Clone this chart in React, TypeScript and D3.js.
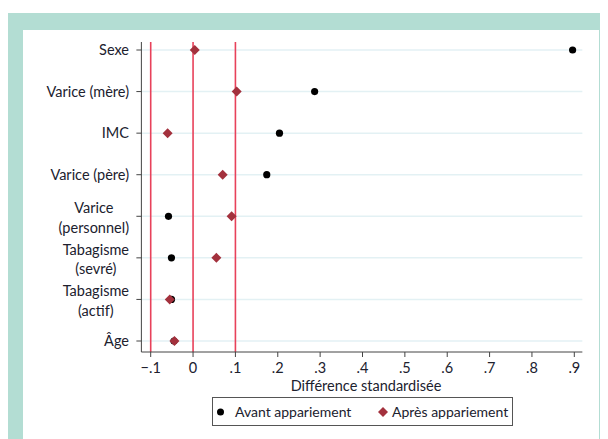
import React, { useEffect, useRef } from "react";
import * as d3 from "d3";

const categories = [
  ["Sexe"],
  ["Varice (mère)"],
  ["IMC"],
  ["Varice (père)"],
  ["Varice", "(personnel)"],
  ["Tabagisme", "(sevré)"],
  ["Tabagisme", "(actif)"],
  ["Âge"],
];
const avant = [0.896, 0.287, 0.204, 0.174, -0.058, -0.051, -0.051, -0.045];
const apres = [0.004, 0.103, -0.06, 0.07, 0.091, 0.055, -0.055, -0.044];
const refLines = [-0.1, 0, 0.1];
const xTicks = [-0.1, 0, 0.1, 0.2, 0.3, 0.4, 0.5, 0.6, 0.7, 0.8, 0.9];

const FONT = "Lato, sans-serif";
const FS = "14.5px";
const INK = "#20212e";

const App: React.FC = () => {
  const svgRef = useRef<SVGSVGElement>(null);

  useEffect(() => {
    if (!svgRef.current) return;
    const svg = d3.select(svgRef.current);
    svg.selectAll("*").remove();

    // frame
    svg.append("rect").attr("x", 0).attr("y", 5).attr("width", 600).attr("height", 434).attr("fill", "#b3ddd3");
    svg.append("rect").attr("x", 15).attr("y", 22).attr("width", 576).attr("height", 417).attr("fill", "#ffffff");

    const x = d3.scaleLinear().domain([-0.1, 0.9]).range([142.7, 566.3]);
    const y = d3
      .scalePoint<number>()
      .domain(d3.range(categories.length))
      .range([42, 333]);

    const plotTop = 34;
    const axisY = 344;
    const axisLeft = x(-0.122);
    const axisRight = x(0.919);

    // gridlines
    svg
      .append("g")
      .selectAll("line")
      .data(categories)
      .join("line")
      .attr("x1", axisLeft)
      .attr("x2", axisRight)
      .attr("y1", (_, i) => y(i)!)
      .attr("y2", (_, i) => y(i)!)
      .attr("stroke", "#e3f1f4")
      .attr("stroke-width", 1.5);

    // reference lines
    svg
      .append("g")
      .selectAll("line")
      .data(refLines)
      .join("line")
      .attr("x1", (d) => x(d))
      .attr("x2", (d) => x(d))
      .attr("y1", plotTop)
      .attr("y2", axisY)
      .attr("stroke", "#e8415a")
      .attr("stroke-width", 1.6);

    // axes
    svg.append("line").attr("x1", axisLeft).attr("x2", axisLeft).attr("y1", plotTop).attr("y2", axisY).attr("stroke", "#444");
    svg.append("line").attr("x1", axisLeft).attr("x2", axisRight).attr("y1", axisY).attr("y2", axisY).attr("stroke", "#444");

    const xt = svg.append("g");
    xTicks.forEach((t) => {
      xt.append("line").attr("x1", x(t)).attr("x2", x(t)).attr("y1", axisY).attr("y2", axisY + 5).attr("stroke", "#444");
      const lbl = t === 0 ? "0" : d3.format(".1f")(t).replace("0.", ".");
      xt.append("text")
        .attr("x", x(t))
        .attr("y", axisY + 21)
        .attr("text-anchor", "middle")
        .style("font-family", FONT)
        .style("font-size", FS)
        .attr("fill", INK)
        .text(lbl);
    });

    svg
      .append("text")
      .attr("x", 358)
      .attr("y", axisY + 39)
      .attr("text-anchor", "middle")
      .style("font-family", FONT)
      .style("font-size", FS)
      .attr("fill", INK)
      .text("Différence standardisée");

    // y labels
    const yl = svg.append("g");
    categories.forEach((lines, i) => {
      const cy = y(i)!;
      yl.append("line").attr("x1", axisLeft - 5).attr("x2", axisLeft).attr("y1", cy).attr("y2", cy).attr("stroke", "#444");
      if (lines.length === 1) {
        yl.append("text")
          .attr("x", 121)
          .attr("y", cy + 5)
          .attr("text-anchor", "end")
          .style("font-family", FONT)
          .style("font-size", FS)
          .attr("fill", INK)
          .text(lines[0]);
      } else {
        const g = yl.append("g");
        const texts = lines.map((s, j) =>
          g
            .append("text")
            .attr("y", cy + (j === 0 ? -3 : 16.5))
            .attr("text-anchor", "middle")
            .style("font-family", FONT)
            .style("font-size", FS)
            .attr("fill", INK)
            .text(s)
        );
        const w = d3.max(texts, (t) => (t.node() as SVGTextElement).getComputedTextLength()) || 0;
        texts.forEach((t) => t.attr("x", 121 - w / 2));
      }
    });

    // markers
    const diamond = d3.symbol().type(d3.symbolDiamond2).size(64);
    svg
      .append("g")
      .selectAll("circle")
      .data(avant)
      .join("circle")
      .attr("cx", (d) => x(d))
      .attr("cy", (_, i) => y(i)!)
      .attr("r", 3.6)
      .attr("fill", "#000");
    svg
      .append("g")
      .selectAll("path")
      .data(apres)
      .join("path")
      .attr("d", diamond)
      .attr("transform", (d, i) => `translate(${x(d)},${y(i)})`)
      .attr("fill", "#a3313d");

    // legend
    const lg = svg.append("g");
    lg.append("rect").attr("x", 204.5).attr("y", 389.5).attr("width", 300).attr("height", 28).attr("fill", "#fff").attr("stroke", "#555");
    lg.append("circle").attr("cx", 212.5).attr("cy", 404).attr("r", 3.5).attr("fill", "#000");
    lg.append("text").attr("x", 227).attr("y", 409).style("font-family", FONT).style("font-size", "14px").attr("fill", INK).text("Avant appariement");
    lg.append("path").attr("d", diamond).attr("transform", "translate(375,404)").attr("fill", "#a3313d");
    lg.append("text").attr("x", 384).attr("y", 409).style("font-family", FONT).style("font-size", "14px").attr("fill", INK).text("Après appariement");
  }, []);

  return <svg ref={svgRef} width={600} height={431} style={{ display: "block" }} />;
};

export default App;
